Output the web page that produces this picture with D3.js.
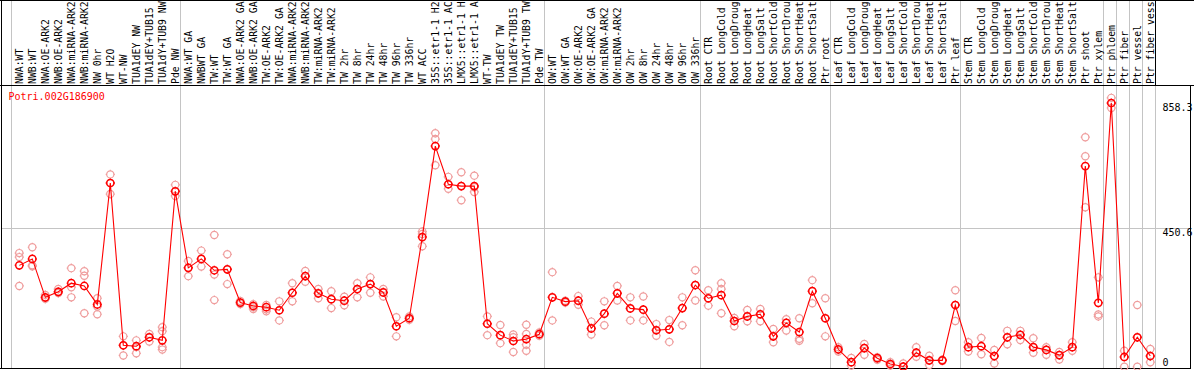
<!DOCTYPE html>
<html>
<head>
<meta charset="utf-8">
<script src="https://cdn.jsdelivr.net/npm/d3@7"></script>
<style>
  body { margin: 0; background: #fff; }
  svg { display: block; }
</style>
</head>
<body>
<svg id="chart" width="1194" height="370"></svg>
<script>
// gene shown in the chart
const geneId = "Potri.002G186900";

// sample names, one per column (as printed, 14 characters at most)
const labels = [
  "NWA:WT","NWB:WT","NWA:OE-ARK2","NWB:OE-ARK2","NWA:miRNA-ARK2","NWB:miRNA-ARK2","NW 0hr","WT H2O","WT-NW",
  "TUA1dEY NW","TUA1dEY+TUB15","TUA1dY+TUB9 NW","Pde NW",
  "NWA:WT GA","NWBWT GA","TW:WT","TW:WT GA","NWA:OE-ARK2 GA","NWB:OE-ARK2 GA","TW:OE-ARK2","TW:OE-ARK2 GA",
  "NWA:miRNA-ARK2","NWB:miRNA-ARK2","TW:miRNA-ARK2","TW:miRNA-ARK2","TW 2hr","TW 8hr","TW 24hr","TW 48hr","TW 96hr","TW 336hr",
  "WT ACC","35S::etr1-1 H2","35S::etr1-1 AC","LMX5::etr1-1 H","LMX5::etr1-1 A","WT-TW","TUA1dEY TW","TUA1dEY+TUB15","TUA1dY+TUB9 TW","Pde TW",
  "OW:WT","OW:WT GA","OW:OE-ARK2","OW:OE-ARK2 GA","OW:miRNA-ARK2","OW:miRNA-ARK2","OW 2hr","OW 8hr","OW 24hr","OW 48hr","OW 96hr","OW 336hr",
  "Root CTR","Root LongCold","Root LongDroug","Root LongHeat","Root LongSalt","Root ShortCold","Root ShortDrou","Root ShortHeat","Root ShortSalt","Ptr root",
  "Leaf CTR","Leaf LongCold","Leaf LongDroug","Leaf LongHeat","Leaf LongSalt","Leaf ShortCold","Leaf ShortDrou","Leaf ShortHeat","Leaf ShortSalt","Ptr leaf",
  "Stem CTR","Stem LongCold","Stem LongDroug","Stem LongHeat","Stem LongSalt","Stem ShortCold","Stem ShortDrou","Stem ShortHeat","Stem ShortSalt","Ptr shoot",
  "Ptr xylem","Ptr phloem","Ptr fiber","Ptr vessel","Ptr fiber vess"
];

// mean expression per column
const means = [
  330, 351, 226, 244, 272, 263, 203, 598, 70, 67, 96, 86, 571,
  322, 351, 314, 317, 209, 198, 194, 184, 241, 295, 239, 220, 215, 253, 269, 242, 132,
  158, 422, 718, 594, 588, 588, 140, 103, 84, 90, 106,
  226, 212, 215, 125, 173, 239, 190, 186, 119, 122, 191, 266,
  223, 233, 149, 164, 171, 99, 143, 113, 246, 158,
  57, 15, 61, 28, 9, 1, 46, 21, 21, 201,
  64, 67, 35, 96, 104, 64, 55, 38, 64, 653,
  208, 858.3, 32, 96, 35
];

// replicate values per column
const replicates = [
  [370,357,263],[389,330,327],[234,224,221],[253,244,240],[321,259,226],[311,296,174],[223,196,171],
  [626,598,562],[99,70,37],[86,64,44],[107,96,82],[129,116,64,56],[592,571,556],
  [344,322,295],[378,351,326],[429,300,217],[366,317,269],[214,208,204],[204,194,188],[201,187,181],
  [213,184,151],[272,241,213],[312,295,277],[253,239,223],[246,220,191],[228,215,200],[272,253,226],
  [291,269,241],[253,242,229],[161,132,99],
  [164,158,153],[440,432,392],[760,741,656],[618,594,579],[633,588,542],[622,584,569],[164,140,103],
  [136,103,77],[105,96,84,48],[137,107,72,52],[112,106,101],
  [308,226,151],[215,212,209],[230,215,202],[147,125,105],[213,173,135],[263,239,216],[226,190,151],
  [229,186,151],[139,119,101],[152,122,81],[226,191,135],[314,266,216],
  [249,223,199],[272,253,174],[159,149,132],[185,164,148],[188,171,148],[123,99,80],[155,143,118],
  [158,91,85],[282,246,207],[223,158,99],
  [64,55,50],[29,15,4],[74,61,39],[31,28,23],[15,9,4],[11,0,0],[64,46,33],[36,21,6],[23,21,19],[249,201,149],
  [80,64,50],[94,67,41],[55,35,11],[117,96,73],[117,104,87],[93,64,46],[64,55,39],[48,38,24],[80,64,52],[747,685,519],
  [291,170,164],[875,858,842],[52,32,0],[201,96,0],[58,35,15]
];

// columns where a new block of samples starts (last one = end)
const groupStarts = [0, 13, 41, 53, 63, 73, 84, 85, 86, 87, 88];

// right axis values
const yTicks = [0, 450.6, 858.3];

const svg = d3.select("#chart");
const font = "'DejaVu Sans Mono', monospace";
const red = "#ff0000";
const pink = "#ef9c9c";
const grid = "#c4c4c4";
const headerBottom = 85.5;
const plotBottom = 368.5;

let x = d3.scaleBand()
  .domain(d3.range(labels.length))
  .range([12.8, 12.8 + labels.length * 13]);
let cx = i => x(i) + x.bandwidth() / 2;

let y = d3.scaleLinear()
  .domain([0, 858.3])
  .range([366.8, 103]);

function edge(i) {
  let v = i < labels.length ? x(i) : x.range()[1];
  return Math.floor(v - 1.5) + 0.5;
}

// grid lines
svg.append("g").selectAll("line")
  .data(groupStarts)
  .join("line")
  .attr("x1", d => edge(d)).attr("x2", d => edge(d))
  .attr("y1", 0).attr("y2", plotBottom)
  .attr("stroke", grid);

let yMid = Math.floor(y(450.6)) + 0.5;
svg.append("line")
  .attr("x1", 1).attr("x2", 1191)
  .attr("y1", yMid).attr("y2", yMid)
  .attr("stroke", grid);

// frame
let frame = svg.append("g").attr("stroke", "#000").attr("fill", "none");
frame.append("line").attr("x1", 0).attr("x2", 1194).attr("y1", 0.5).attr("y2", 0.5);
frame.append("line").attr("x1", 1.5).attr("x2", 1.5).attr("y1", 0).attr("y2", 369);
frame.append("line").attr("x1", 0).attr("x2", 1194).attr("y1", headerBottom).attr("y2", headerBottom);
frame.append("line").attr("x1", 0).attr("x2", 1191).attr("y1", plotBottom).attr("y2", plotBottom);
frame.append("line").attr("x1", 1190.5).attr("x2", 1190.5).attr("y1", headerBottom).attr("y2", 369);
frame.append("line").attr("x1", edge(88)).attr("x2", edge(88)).attr("y1", 0).attr("y2", headerBottom);

// sample labels, rotated
svg.append("g").selectAll("text")
  .data(labels)
  .join("text")
  .attr("transform", (d, i) => `translate(${cx(i) + 4},84) rotate(-90)`)
  .attr("font-family", font)
  .attr("font-size", 9.8)
  .attr("fill", "#000")
  .text(d => d);

// gene id
svg.append("text")
  .attr("x", 8.5).attr("y", 100)
  .attr("font-family", font)
  .attr("font-size", 10)
  .attr("fill", red)
  .text(geneId);

// right axis
let axis = svg.append("g")
  .attr("transform", "translate(1162.5,0)")
  .call(d3.axisRight(y).tickValues(yTicks).tickSize(0).tickPadding(0)
    .tickFormat(d => d === 0 ? "0" : d3.format(".1f")(d)));
axis.select(".domain").remove();
axis.selectAll("text")
  .attr("font-family", font)
  .attr("font-size", 10)
  .attr("fill", "#000")
  .attr("dy", d => d === 0 ? "-1.5" : "7.5");

// ring marker with small nubs
function ring(r) {
  let p = d3.path();
  p.arc(0, 0, r, 0, 2 * Math.PI);
  p.moveTo(0, -r); p.lineTo(0, -r - 1);
  p.moveTo(0, r); p.lineTo(0, r + 1);
  p.moveTo(-r, 0); p.lineTo(-r - 1, 0);
  p.moveTo(r, 0); p.lineTo(r + 1, 0);
  return p.toString();
}

// replicates
let repPoints = [];
replicates.forEach((vals, i) => vals.forEach(v => repPoints.push({ i: i, v: v })));
svg.append("g").selectAll("path")
  .data(repPoints)
  .join("path")
  .attr("transform", d => `translate(${cx(d.i)},${y(d.v)})`)
  .attr("d", ring(3.6))
  .attr("fill", "none")
  .attr("stroke", pink)
  .attr("stroke-width", 1.2);

// mean line
let line = d3.line()
  .x((d, i) => cx(i))
  .y(d => y(d));
svg.append("path")
  .datum(means)
  .attr("d", line)
  .attr("fill", "none")
  .attr("stroke", red)
  .attr("stroke-width", 1.1);

// mean markers
svg.append("g").selectAll("path")
  .data(means)
  .join("path")
  .attr("transform", (d, i) => `translate(${cx(i)},${y(d)})`)
  .attr("d", ring(3.6))
  .attr("fill", "none")
  .attr("stroke", red)
  .attr("stroke-width", 1.5);
</script>
</body>
</html>
